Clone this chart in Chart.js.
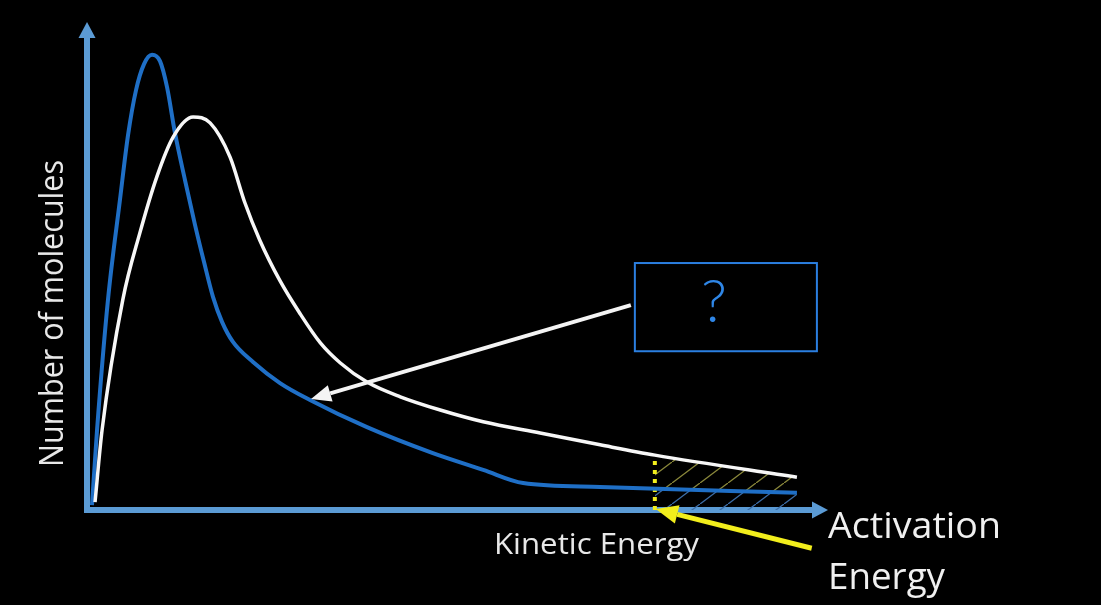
<!DOCTYPE html>
<html>
<head>
<meta charset="utf-8">
<script src="https://cdn.jsdelivr.net/npm/chart.js@4.4.0/dist/chart.umd.min.js"></script>
<style>
  html, body { margin: 0; background: #000; overflow: hidden; }
  #wrap { width: 1101px; height: 605px; }
</style>
</head>
<body>
<div id="wrap"><canvas id="chart"></canvas></div>
<script>
// energy units 0..100 along the x axis, molecule count 0..100 up the y axis
const coldEnergy = [0.54, 1.22, 2.70, 4.32, 5.41, 6.49, 7.57, 8.65, 9.73, 10.68, 11.76, 13.11, 14.46, 15.68, 16.89, 18.11, 19.59, 22.30, 25.95, 30.0, 37.7, 46.6, 53.4, 58.8, 69.2, 95.8]
const coldCount  = [1.0, 16.3, 42.9, 63.3, 76.5, 85.7, 91.0, 92.9, 91.6, 86.3, 76.9, 67.3, 58.2, 50.6, 43.5, 38.4, 34.3, 30.2, 25.9, 22.45, 16.9, 11.6, 8.2, 5.5, 4.7, 3.5]

const hotEnergy = [0.95, 1.9, 4.7, 7.0, 9.3, 11.5, 14.2, 16.5, 19.2, 21.2, 23.2, 25.9, 28.6, 31.4, 34.1, 37.7, 42.2, 47.6, 53.4, 61.1, 69.2, 76.6, 95.8]
const hotCount  = [1.6, 16.3, 42.9, 56.5, 68.0, 76.1, 80.2, 79.0, 72.0, 62.7, 55.1, 46.9, 40.2, 34.1, 30.0, 26.1, 23.1, 20.4, 18.0, 15.7, 13.3, 11.2, 6.7]

const activationEnergy = 76.6
const hotAboveEa  = [11.2, 6.7]   // white curve at Ea and at the end
const coldAboveEa = [4.4, 3.5]    // blue curve at Ea and at the end
const tailEnd = 95.8

const yTitle = 'Number of molecules'
const xTitle = 'Kinetic Energy'
const eaLabel = ['Activation', 'Energy']
const boxText = '?'

const toPts = (xs, ys) => xs.map((x, i) => ({x: x, y: ys[i]}))

function hatch(color) {
    const w = 28, h = 21
    const c = document.createElement('canvas')
    c.width = w; c.height = h
    const g = c.getContext('2d')
    g.strokeStyle = color
    g.lineWidth = 1.3
    g.beginPath()
    g.moveTo(-w, 2 * h); g.lineTo(2 * w, -h)
    g.stroke()
    return g.createPattern(c, 'repeat')
}

function arrow(ctx, x1, y1, x2, y2, color, lw, len, wid) {
    const a = Math.atan2(y2 - y1, x2 - x1)
    const bx = x2 - Math.cos(a) * len, by = y2 - Math.sin(a) * len
    ctx.strokeStyle = color
    ctx.fillStyle = color
    ctx.lineWidth = lw
    ctx.beginPath(); ctx.moveTo(x1, y1); ctx.lineTo(bx, by); ctx.stroke()
    ctx.beginPath()
    ctx.moveTo(x2, y2)
    ctx.lineTo(bx + Math.sin(a) * wid / 2, by - Math.cos(a) * wid / 2)
    ctx.lineTo(bx - Math.sin(a) * wid / 2, by + Math.cos(a) * wid / 2)
    ctx.closePath(); ctx.fill()
}

// text squeezed to a given width so it matches the narrow original font
function fitText(ctx, text, x, y, width, size) {
    ctx.font = size + 'px "Open Sans"'
    const sx = width / ctx.measureText(text).width
    ctx.save()
    ctx.translate(x, y)
    ctx.scale(sx, 1)
    ctx.textAlign = 'left'
    ctx.textBaseline = 'alphabetic'
    ctx.fillText(text, 0, 0)
    ctx.restore()
}

const background = {
    id: 'background',
    beforeDraw(chart) {
        const ctx = chart.ctx
        ctx.save()
        ctx.fillStyle = '#000'
        ctx.fillRect(0, 0, chart.width, chart.height)
        ctx.restore()
    }
}

const axes = {
    id: 'axes',
    beforeDatasetsDraw(chart) {
        const ctx = chart.ctx, xs = chart.scales.x, ys = chart.scales.y
        const x0 = xs.getPixelForValue(0) - 1, y0 = ys.getPixelForValue(0)
        ctx.save()
        ctx.lineCap = 'butt'
        arrow(ctx, x0, y0 + 3, x0, ys.getPixelForValue(100) + 2, '#5b9bd5', 6, 16, 17)
        arrow(ctx, x0 - 3, y0, xs.getPixelForValue(100), y0, '#5b9bd5', 6, 16, 17)
        ctx.restore()
    }
}

const notes = {
    id: 'notes',
    afterDatasetsDraw(chart) {
        const ctx = chart.ctx, xs = chart.scales.x, ys = chart.scales.y
        const px = v => xs.getPixelForValue(v), py = v => ys.getPixelForValue(v)
        ctx.save()

        // question box
        const bx1 = px(73.9), bx2 = px(98.5), by1 = py(50.4), by2 = py(32.4)
        ctx.strokeStyle = '#2b7fe0'
        ctx.lineWidth = 2
        ctx.strokeRect(bx1, by1, bx2 - bx1, by2 - by1)
        ctx.fillStyle = '#2f86e6'
        ctx.font = '300 60px Lato'
        ctx.textAlign = 'center'
        ctx.textBaseline = 'alphabetic'
        ctx.fillText(boxText, px(84.6), py(38.4))

        // white arrow from the box to the cold curve
        const tip = coldEnergy.indexOf(30.0)
        arrow(ctx, bx1 - 4, py(41.8), px(coldEnergy[tip]) + 1, py(coldCount[tip]) - 1, '#f4f4f4', 4, 20, 17)

        // yellow arrow to the activation energy
        arrow(ctx, px(97.8), py(-7.8), px(activationEnergy) + 1, py(0) - 1, '#f2ee1c', 5, 22, 19)

        // labels
        ctx.fillStyle = '#e8e8e8'
        fitText(ctx, xTitle, 494, 554, 205, 30)
        ctx.fillStyle = '#f0f0f0'
        fitText(ctx, eaLabel[0], 828, 538, 173, 36)
        fitText(ctx, eaLabel[1], 828, 589, 117, 36)
        ctx.fillStyle = '#e8e8e8'
        ctx.save()
        ctx.translate(63, 467)
        ctx.rotate(-Math.PI / 2)
        fitText(ctx, yTitle, 0, 0, 307, 33)
        ctx.restore()

        ctx.restore()
    }
}

new Chart(document.getElementById('chart'), {
    type: 'line',
    data: {
        datasets: [
            {
                data: toPts(hotEnergy, hotCount),
                borderColor: '#f7f7f7',
                borderWidth: 3.5,
                cubicInterpolationMode: 'monotone',
                fill: false,
                order: 0
            },
            {
                data: toPts(coldEnergy, coldCount),
                borderColor: '#1f6fc6',
                borderWidth: 4,
                cubicInterpolationMode: 'monotone',
                fill: false,
                order: 0
            },
            {
                data: toPts([activationEnergy, tailEnd], hotAboveEa),
                borderWidth: 0,
                backgroundColor: hatch('#8c8a3c'),
                fill: '+1',
                order: 3
            },
            {
                data: toPts([activationEnergy, tailEnd], coldAboveEa),
                borderWidth: 0,
                backgroundColor: hatch('#3d6ea8'),
                fill: 'origin',
                order: 3
            },
            {
                data: toPts([activationEnergy, activationEnergy], [0, hotAboveEa[0]]),
                borderColor: '#f2ee1c',
                borderWidth: 4,
                borderDash: [4, 5],
                fill: false,
                order: 1
            }
        ]
    },
    options: {
        responsive: true,
        maintainAspectRatio: false,
        animation: false,
        layout: { padding: { left: 88, right: 273, top: 20, bottom: 95 } },
        elements: { point: { radius: 0 } },
        scales: {
            x: { type: 'linear', min: 0, max: 100, display: false },
            y: { min: 0, max: 100, display: false }
        },
        plugins: {
            legend: { display: false },
            tooltip: { enabled: false }
        }
    },
    plugins: [background, axes, notes]
})
</script>
</body>
</html>
